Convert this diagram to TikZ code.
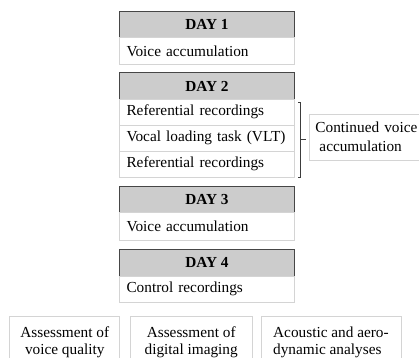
\documentclass[tikz,border=0pt]{standalone}
\usepackage{fontspec}
\setmainfont{Liberation Serif}
\usetikzlibrary{positioning,calc}
\definecolor{headgray}{RGB}{204,204,204}
\definecolor{headline}{RGB}{70,70,70}
\definecolor{rowline}{RGB}{212,212,212}
\definecolor{bracketgray}{RGB}{60,60,60}

\begin{document}
\begin{tikzpicture}[
    node distance=0pt,
    font=\fontsize{15.3}{18.5}\selectfont,
    dayhead/.style={rectangle, draw=headline, fill=headgray, line width=0.9pt,
                    minimum width=175pt, minimum height=26.3pt, inner sep=0pt, outer sep=0pt,
                    font=\fontsize{15.3}{18.5}\selectfont\bfseries},
    dayrow/.style={rectangle, draw=rowline, fill=white, line width=0.9pt,
                   minimum width=175pt, minimum height=26.5pt, text width=161pt,
                   align=left, inner xsep=7pt, inner ysep=0pt, outer sep=0pt},
    sidebox/.style={rectangle, draw=rowline, fill=white, line width=0.9pt,
                    minimum width=115pt, minimum height=46pt, text width=105pt,
                    align=left, inner xsep=6pt, inner ysep=0pt},
    outbox/.style={rectangle, draw=rowline, fill=white, line width=0.9pt,
                   minimum height=52pt, inner xsep=6pt, inner ysep=0pt, anchor=north west,
                   font=\fontsize{15.3}{17.5}\selectfont},
    bracket/.style={draw=bracketgray, line width=0.7pt}
]
\useasboundingbox (0,0) rectangle (419pt,-357pt);

% Day 1
\node[dayhead, anchor=north west] (day1) at (119.5pt,-11.5pt) {DAY 1};
\node[dayrow, below=of day1] (acc1) {Voice accumulation};

% Day 2
\node[dayhead, below=8.5pt of acc1] (day2) {DAY 2};
\node[dayrow, minimum height=26pt, below=of day2] (refA) {Referential recordings};
\node[dayrow, minimum height=26pt, below=of refA] (vlt) {Vocal loading task (VLT)};
\node[dayrow, minimum height=26pt, below=of vlt] (refB) {Referential recordings};

% Day 3
\node[dayhead, below=9pt of refB] (day3) {DAY 3};
\node[dayrow, minimum height=28pt, below=of day3] (acc3) {Voice accumulation};

% Day 4
\node[dayhead, below=9.3pt of acc3] (day4) {DAY 4};
\node[dayrow, below=of day4] (ctrl) {Control recordings};

% Side note for day 2
\node[sidebox, anchor=north west] (cont) at (309pt,-113.5pt)
    {Continued voice\\\hspace*{4pt}accumulation};
\coordinate (brTop) at ([xshift=6.2pt,yshift=-3pt]refA.north east);
\coordinate (brBot) at ([xshift=6.2pt]refB.south east);
\draw[bracket] ([xshift=-2.5pt]brTop) -- (brTop) -- (brBot) -- ([xshift=-2.5pt]brBot);
\coordinate (brMid) at ($(brTop)!0.5!(brBot)$);
\draw[bracket] (brMid) -- ([xshift=5pt]brMid);

% Outcome measures
\node[outbox, minimum width=110pt, align=center] (qual) at (9.3pt,-316pt)
    {Assessment of\\voice quality};
\node[outbox, minimum width=121.5pt, align=center] (imag) at (130pt,-316pt)
    {Assessment of\\digital imaging};
\node[outbox, minimum width=140pt, align=left] (acou) at (260.5pt,-316pt)
    {Acoustic and aero-\\dynamic analyses};

\end{tikzpicture}
\end{document}
